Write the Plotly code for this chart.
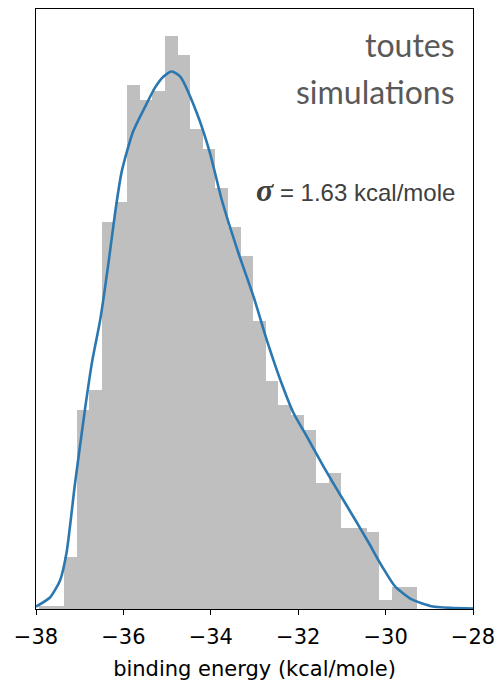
import numpy as np
import plotly.graph_objects as go

# Histogram (density)
bin_start = -37.929
bin_width = 0.2882
hist_density = [0.0014, 0.0014, 0.0235, 0.0897, 0.0988, 0.1745, 0.1836, 0.2363,
                0.2296, 0.2336, 0.2584, 0.2499, 0.2165, 0.2075, 0.1899, 0.1723,
                0.1592, 0.1299, 0.1028, 0.0920, 0.0875, 0.0807, 0.0568, 0.0613,
                0.0365, 0.0365, 0.0347, 0.0041, 0.0099, 0.0099]

# KDE curve
kde_x = [-38.00, -37.68, -37.45, -37.30, -37.11, -36.88, -36.72, -36.53, -36.34,
         -36.19, -36.04, -35.78, -35.47, -35.28, -35.08, -34.89, -34.70, -34.32,
         -34.02, -33.75, -33.37, -33.02, -32.72, -32.41, -32.11, -31.80, -31.42,
         -31.11, -30.70, -30.39, -30.08, -29.78, -29.40, -28.98, -28.52, -28.00]
kde_y = [0.0011, 0.0052, 0.0129, 0.0255, 0.0562, 0.0900, 0.1112, 0.1306, 0.1563,
         0.1788, 0.1973, 0.2154, 0.2280, 0.2352, 0.2403, 0.2426, 0.2403, 0.2239,
         0.2059, 0.1847, 0.1608, 0.1409, 0.1215, 0.1035, 0.0886, 0.0778, 0.0643,
         0.0539, 0.0404, 0.0300, 0.0192, 0.0101, 0.0043, 0.0014, 0.0005, 0.0002]

x_ticks = [-38, -36, -34, -32, -30, -28]
x_tick_labels = ["\u221238", "\u221236", "\u221234", "\u221232", "\u221230", "\u221228"]

centers = [bin_start + (i + 0.5) * bin_width for i in range(len(hist_density))]

fig = go.Figure()
fig.add_trace(go.Bar(x=centers, y=hist_density, width=bin_width,
                     marker=dict(color="#bfbfbf", line=dict(width=0)),
                     hoverinfo="skip", showlegend=False))
fig.add_trace(go.Scatter(x=kde_x, y=kde_y, mode="lines",
                         line=dict(color="#2b78b0", width=2.6, shape="spline", smoothing=0.6),
                         hoverinfo="skip", showlegend=False))

fig.add_annotation(x=-28.36, y=0.2546, xref="x", yref="y", text="toutes",
                   showarrow=False, xanchor="right", yanchor="middle",
                   font=dict(family="Lato", size=32, color="#595959"))
fig.add_annotation(x=-28.36, y=0.2334, xref="x", yref="y", text="simulations",
                   showarrow=False, xanchor="right", yanchor="middle",
                   font=dict(family="Lato", size=32, color="#595959"))
fig.add_annotation(x=-28.36, y=0.1892, xref="x", yref="y",
                   text='<span style="font-family:Liberation Serif;font-weight:bold;font-style:italic;font-size:32px">σ</span> = 1.63 kcal/mole',
                   showarrow=False, xanchor="right", yanchor="middle",
                   font=dict(family="Liberation Sans", size=24, color="#404040"))

fig.update_layout(
    template="none",
    width=497, height=681,
    margin=dict(l=36, r=24, t=9, b=72, autoexpand=False),
    paper_bgcolor="white", plot_bgcolor="white",
    bargap=0,
    xaxis=dict(range=[-38, -28], tickvals=x_ticks, ticktext=x_tick_labels,
               automargin=False,
               ticks="outside", ticklen=5, tickwidth=1, tickcolor="black",
               ticklabelstandoff=4,
               showline=True, linecolor="black", linewidth=1, mirror=True,
               showgrid=False, zeroline=False,
               tickfont=dict(family="DejaVu Sans", size=21, color="black"),
               title=dict(text="binding energy (kcal/mole)", standoff=13,
                          font=dict(family="DejaVu Sans", size=21, color="black"))),
    yaxis=dict(range=[0, 0.2708], showticklabels=False, ticks="",
               automargin=False,
               showline=True, linecolor="black", linewidth=1, mirror=True,
               showgrid=False, zeroline=False),
)

fig.write_html("out.html",
               config={"displayModeBar": False, "staticPlot": True},
               post_script="document.body.style.margin='0';document.body.style.overflow='hidden';")
